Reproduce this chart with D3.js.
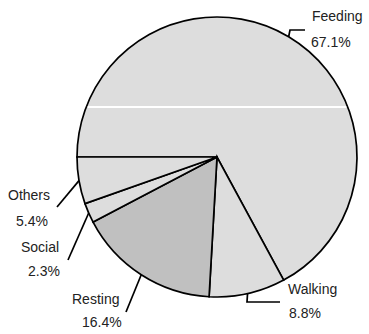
<!DOCTYPE html>
<html><head><meta charset="utf-8">
<script src="https://cdn.jsdelivr.net/npm/d3@7"></script>
<style>body{margin:0;background:#fff;} svg{display:block;}</style>
</head><body>
<svg id="c" width="369" height="334"></svg>
<script>
const categories = ["Feeding","Walking","Resting","Social","Others"];
const values = [67.1, 8.8, 16.4, 2.3, 5.4];
const labels = ["67.1%","8.8%","16.4%","2.3%","5.4%"];
const colors = ["#dddddd","#dddddd","#c0c0c0","#dddddd","#dddddd"];

const svg = d3.select("#c");
const cx = 217, cy = 157, R = 140;
const g = svg.append("g").attr("transform",`translate(${cx},${cy})`);

const pie = d3.pie().sort(null).value(d=>d)
  .startAngle(-Math.PI/2).endAngle(3*Math.PI/2);
const arcs = pie(values);
const arc = d3.arc().innerRadius(0).outerRadius(R);

g.selectAll("path.s").data(arcs).join("path")
  .attr("class","s")
  .attr("d",arc)
  .attr("fill",(d,i)=>colors[i])
  .attr("stroke","#000")
  .attr("stroke-width",1.7)
  .attr("stroke-linejoin","miter");

// white artifact line across feeding slice
const yl = -50;
const hw = Math.sqrt(R*R - yl*yl) - 1.5;
g.append("line").attr("x1",-hw).attr("x2",hw).attr("y1",yl).attr("y2",yl)
  .attr("stroke","#fff").attr("stroke-width",2);

// leaders & labels (layout offsets)
const layout = [
  {pts:[[290,30],[305,30]], t1:[312,21], t2:[311,47]},
  {pts:[[247,302],[280,302]], t1:[288,294], t2:[289,318]},
  {pts:[[126,312]], t1:[72,304], t2:[82,327]},
  {pts:[[68,260]], t1:[21,252], t2:[28,276]},
  {pts:[[57,207]], t1:[8,200], t2:[16,226]}
];
const mid = d => (d.startAngle+d.endAngle)/2;
const line = d3.line();
arcs.forEach((d,i)=>{
  const a = mid(d);
  const p0 = [cx + R*Math.sin(a), cy - R*Math.cos(a)];
  svg.append("path").attr("d", line([p0, ...layout[i].pts]))
    .attr("fill","none").attr("stroke","#000").attr("stroke-width",1.7);
  svg.append("text").attr("x",layout[i].t1[0]).attr("y",layout[i].t1[1])
    .attr("font-family","Liberation Sans, Arial, sans-serif").attr("font-size",14)
    .attr("fill","#222").text(categories[i]);
  svg.append("text").attr("x",layout[i].t2[0]).attr("y",layout[i].t2[1])
    .attr("font-family","Liberation Sans, Arial, sans-serif").attr("font-size",14)
    .attr("fill","#222").text(labels[i]);
});
</script>
</body></html>
